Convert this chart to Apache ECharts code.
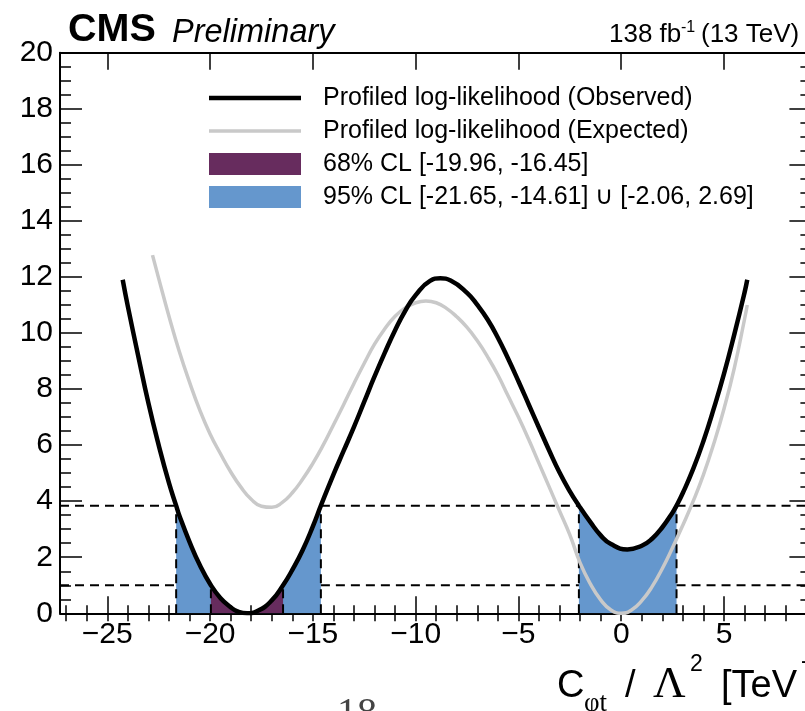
<!DOCTYPE html>
<html>
<head>
<meta charset="utf-8">
<script src="https://cdn.jsdelivr.net/npm/echarts@6/dist/echarts.min.js"></script>
<style>
  html, body { margin: 0; padding: 0; background: #fff; overflow: hidden; }
  #chart { width: 805px; height: 711px; }
</style>
</head>
<body>
<div id="chart"></div>
<script>
// Profiled likelihood scan of the C_φt Wilson coefficient: -2ΔlnL vs C_φt/Λ²

// Observed scan (x in TeV^-2, y = -2ΔlnL)
const obsX = [-24.25, -24.0, -23.5, -23.0, -22.5, -22.0, -21.65, -21.5, -21.0, -20.5,
  -19.96, -19.5, -19.0, -18.7, -18.2, -17.7, -17.0, -16.45, -16.0,
  -15.5, -15.0, -14.61, -14.0, -13.5, -13.0, -12.5, -12.0, -11.5, -11.0,
  -10.5, -10.0, -9.3, -8.8, -8.3, -7.5, -7.0, -6.5,
  -6.0, -5.5, -5.0, -4.5, -4.0, -3.5, -3.0, -2.5, -2.06, -1.5,
  -1.0, -0.5, 0.3, 1.0, 1.5, 2.0, 2.5, 2.69, 3.0,
  3.5, 4.0, 4.5, 5.0, 5.5, 6.0, 6.13];
const obsY = [11.9, 10.95, 9.2, 7.5, 6.0, 4.65, 3.84, 3.5, 2.55, 1.72,
  1.0, 0.55, 0.22, 0.08, 0.0, 0.08, 0.46, 1.0, 1.55,
  2.25, 3.1, 3.84, 4.95, 5.8, 6.65, 7.55, 8.45, 9.3, 10.1,
  10.8, 11.35, 11.86, 11.95, 11.87, 11.43, 11.0, 10.48,
  9.83, 9.08, 8.28, 7.45, 6.62, 5.8, 5.02, 4.35, 3.84, 3.25,
  2.78, 2.47, 2.28, 2.41, 2.66, 3.07, 3.6, 3.84, 4.3,
  5.15, 6.15, 7.3, 8.55, 9.95, 11.45, 11.9];

// Expected (Asimov) scan
const expX = [-22.8, -22.5, -22.0, -21.5, -21.0, -20.5, -20.0, -19.5, -19.0, -18.5,
  -18.0, -17.5, -17.0, -16.5, -16.0, -15.5, -15.0, -14.5, -14.0, -13.5,
  -13.0, -12.5, -12.0, -11.5, -11.0, -10.5, -10.0, -9.5, -9.0, -8.5,
  -8.0, -7.5, -7.0, -6.5, -6.0, -5.5, -5.0, -4.5, -4.0, -3.5,
  -3.0, -2.5, -2.0, -1.5, -1.0, -0.5, 0.0, 0.5, 1.0, 1.5,
  2.0, 2.5, 3.0, 3.5, 4.0, 4.5, 5.0, 5.5, 6.0, 6.13];
const expY = [12.78, 11.95, 10.6, 9.35, 8.25, 7.25, 6.4, 5.7, 5.05, 4.5,
  4.07, 3.82, 3.78, 3.95, 4.3, 4.78, 5.35, 6.0, 6.72, 7.45,
  8.2, 8.92, 9.6, 10.15, 10.6, 10.9, 11.08, 11.14, 11.08, 10.88,
  10.58, 10.2, 9.72, 9.15, 8.5, 7.75, 7.0, 6.2, 5.35, 4.5,
  3.65, 2.8, 1.8, 1.05, 0.48, 0.12, 0.0, 0.12, 0.45, 0.95,
  1.6, 2.35, 3.15, 4.0, 4.95, 6.05, 7.3, 8.75, 10.5, 11.0];

// Confidence intervals and their -2ΔlnL thresholds
const cl68 = [[-19.96, -16.45]];
const cl95 = [[-21.65, -14.61], [-2.06, 2.69]];
const level68 = 1.0;
const level95 = 3.84;

// Axes
const xRange = [-27.3, 9.25];
const yRange = [0, 20];
const xMajorTicks = [-25, -20, -15, -10, -5, 0, 5];
const xMinorTicks = [-27, -26, -25, -24, -23, -22, -21, -20, -19, -18, -17, -16, -15, -14, -13,
  -12, -11, -10, -9, -8, -7, -6, -5, -4, -3, -2, -1, 0, 1, 2, 3, 4, 5, 6, 7, 8, 9];

const FONT = 'Liberation Sans, Arial, Helvetica, sans-serif';
const SERIF = 'Liberation Serif, Times New Roman, serif';
const C_PURPLE = '#672c5e';
const C_BLUE = '#6597cd';
const C_GREY = '#c9c9c9';
const W_OBS = 4.5;
const W_EXP = 3.5;

const nameObs = 'Profiled log-likelihood (Observed)';
const nameExp = 'Profiled log-likelihood (Expected)';
const fmtIv = iv => '[' + iv[0].toFixed(2) + ', ' + iv[1].toFixed(2) + ']';
const name68 = '68% CL ' + cl68.map(fmtIv).join(' \u222A ');
const name95 = '95% CL ' + cl95.map(fmtIv).join(' \u222A ');

const obs = obsX.map((x, i) => [x, obsY[i]]);
const exp = expX.map((x, i) => [x, expY[i]]);
const within = (a, b) => obs.filter(p => p[0] >= a - 1e-9 && p[0] <= b + 1e-9);
const minus = v => (v < 0 ? '\u2212' + Math.abs(v) : String(v));

const series = [];

// Filled 95% and 68% regions under the observed curve
cl95.forEach(iv => series.push({
  name: name95, type: 'line', data: within(iv[0], iv[1]), smooth: true, symbol: 'none',
  color: C_BLUE, itemStyle: { color: C_BLUE }, lineStyle: { width: 0 },
  areaStyle: { color: C_BLUE, opacity: 1, origin: 'start' }, z: 1, silent: true
}));
cl68.forEach(iv => series.push({
  name: name68, type: 'line', data: within(iv[0], iv[1]), smooth: true, symbol: 'none',
  color: C_PURPLE, itemStyle: { color: C_PURPLE }, lineStyle: { width: 0 },
  areaStyle: { color: C_PURPLE, opacity: 1, origin: 'start' }, z: 2, silent: true
}));

// Dashed guide lines: horizontal thresholds outside the 95% intervals, verticals at the interval edges
const dash = pts => series.push({
  type: 'line', data: pts, symbol: 'none', silent: true, z: 3,
  lineStyle: { color: '#000', width: 2, type: [9, 6] }
});
const edges = [xRange[0]];
cl95.forEach(iv => { edges.push(iv[0]); edges.push(iv[1]); });
edges.push(xRange[1]);
[level68, level95].forEach(lv => {
  for (let i = 0; i < edges.length; i += 2) dash([[edges[i], lv], [edges[i + 1], lv]]);
});
cl95.forEach(iv => iv.forEach(x => dash([[x, 0], [x, level95]])));
cl68.forEach(iv => iv.forEach(x => dash([[x, 0], [x, level68]])));

// Likelihood curves
series.push({
  name: nameExp, type: 'line', data: exp, smooth: true, symbol: 'none',
  color: C_GREY, lineStyle: { color: C_GREY, width: W_EXP }, z: 4, silent: true
});
series.push({
  name: nameObs, type: 'line', data: obs, smooth: true, symbol: 'none',
  color: '#000', lineStyle: { color: '#000', width: W_OBS }, z: 5, silent: true
});

const tickStyle = { color: '#000', width: 1.5 };
const xBase = {
  type: 'value', min: xRange[0], max: xRange[1], splitLine: { show: false },
  minorSplitLine: { show: false }, axisPointer: { show: false }
};
const xMajor = (pos, labels) => Object.assign({}, xBase, {
  position: pos,
  axisLine: { show: true, onZero: false, lineStyle: { color: '#000', width: 2 } },
  axisTick: { show: true, inside: true, length: 17, customValues: xMajorTicks, lineStyle: tickStyle },
  axisLabel: labels ? {
    show: true, customValues: xMajorTicks, formatter: minus, fontSize: 30,
    fontFamily: FONT, color: '#000', margin: 6
  } : { show: false }
});
const xMinor = pos => Object.assign({}, xBase, {
  position: pos,
  axisLine: { show: false },
  axisTick: { show: true, inside: true, length: 8, customValues: xMinorTicks, lineStyle: tickStyle },
  axisLabel: { show: false }
});
const yAx = (pos, labels) => ({
  type: 'value', min: yRange[0], max: yRange[1], interval: 2, position: pos,
  splitLine: { show: false }, minorSplitLine: { show: false },
  axisLine: { show: true, onZero: false, lineStyle: { color: '#000', width: 2 } },
  axisTick: { show: true, inside: true, length: 22, lineStyle: tickStyle },
  minorTick: { show: true, splitNumber: 4, length: 11, lineStyle: tickStyle },
  axisLabel: labels ? { show: true, fontSize: 30, fontFamily: FONT, color: '#000', margin: 7 } : { show: false }
});

// Text helper: places a text run by its baseline
const txt = (text, x, base, size, opts) => {
  const o = opts || {};
  const asc = o.serif ? 0.3375 : 0.3465;
  return {
    type: 'text', silent: true, z: 10,
    style: {
      text: text, x: x, y: base - asc * size,
      fontSize: size, fontFamily: o.serif ? SERIF : FONT,
      fontWeight: o.bold ? 'bold' : 'normal', fontStyle: o.italic ? 'italic' : 'normal',
      fill: o.color || '#000', align: o.align || 'left', verticalAlign: 'middle'
    }
  };
};

// Legend line samples drawn as thin bars of the curve widths
const barIcon = w => 'path://M0,0H92V' + w + 'H0Z';

const chart = echarts.init(document.getElementById('chart'), null, { renderer: 'canvas' });
chart.setOption({
  animation: false,
  backgroundColor: '#fff',
  grid: { left: 60, top: 52.7, width: 751.4, height: 560.6, outerBoundsMode: 'none', containLabel: false },
  xAxis: [xMajor('bottom', true), xMinor('bottom'), xMajor('top', false), xMinor('top')],
  yAxis: [yAx('left', true), yAx('right', false)],
  legend: {
    orient: 'vertical', left: 209, top: 85.5, padding: 0, itemGap: 8,
    itemWidth: 92, itemHeight: 22, selectedMode: false, symbolKeepAspect: true,
    textStyle: { fontSize: 25, fontFamily: FONT, color: '#000', padding: [0, 0, 0, 17] },
    data: [
      { name: nameObs, icon: barIcon(W_OBS), itemStyle: { color: '#000' } },
      { name: nameExp, icon: barIcon(W_EXP), itemStyle: { color: C_GREY } },
      { name: name68, icon: 'rect' },
      { name: name95, icon: 'rect' }
    ]
  },
  series: series,
  graphic: [
    txt('CMS', 68, 44, 39.5, { bold: true }),
    txt('Preliminary', 172, 44, 32.5, { italic: true }),
    txt('138 fb', 609, 44, 26),
    txt('-1', 681, 33, 16),
    txt('(13 TeV)', 701, 44, 26),
    // x-axis title: C_φt / Λ² [TeV⁻²]
    txt('C', 557, 700, 38),
    txt('\u03C6t', 584, 713, 27, { serif: true }),
    txt('/', 625, 700, 38),
    txt('\u039B', 653, 700, 45, { serif: true }),
    txt('2', 690, 673, 23),
    txt('[TeV', 721, 700, 38),
    txt('-2', 801, 670, 23),
    // page number
    txt('18', 357, 728, 40, { serif: true, align: 'center', color: '#444' })
  ]
});
</script>
</body>
</html>
